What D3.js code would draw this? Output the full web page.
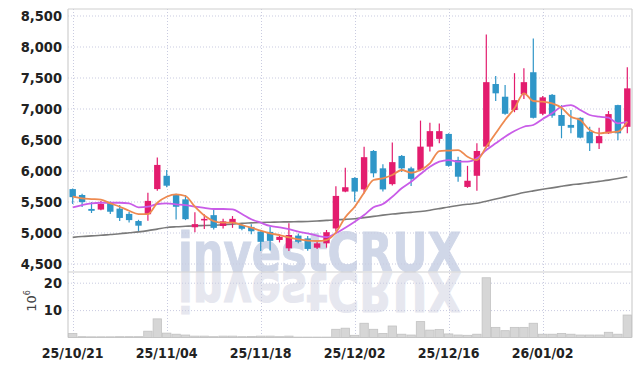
<!DOCTYPE html>
<html>
<head>
<meta charset="utf-8">
<script src="https://cdn.jsdelivr.net/npm/d3@7"></script>
<style>
  body { margin: 0; background: #fff; }
  svg { display: block; }
  .lbl { font-family: "Liberation Sans Narrow", "DejaVu Sans Condensed", "Roboto", sans-serif; font-weight: bold; fill: #222; }
</style>
</head>
<body>
<div id="chart"></div>
<script>
// 取引日
const dates = [
  "25/10/21","25/10/22","25/10/23","25/10/24","25/10/27","25/10/28","25/10/29","25/10/30","25/10/31",
  "25/11/03","25/11/04","25/11/05","25/11/06","25/11/07","25/11/10","25/11/11","25/11/12","25/11/13","25/11/14",
  "25/11/17","25/11/18","25/11/19","25/11/20","25/11/21","25/11/24","25/11/25","25/11/26","25/11/27","25/11/28",
  "25/12/01","25/12/02","25/12/03","25/12/04","25/12/05","25/12/08","25/12/09","25/12/10","25/12/11","25/12/12",
  "25/12/15","25/12/16","25/12/17","25/12/18","25/12/19","25/12/22","25/12/23","25/12/24","25/12/26","25/12/29",
  "25/12/30","26/01/02","26/01/05","26/01/06","26/01/07","26/01/08","26/01/09","26/01/12","26/01/13","26/01/14",
  "26/01/15"
];
const open  = [5700,5605,5380,5370,5480,5385,5300,5185,5295,5700,5915,5620,5535,5085,5195,5280,5105,5165,5120,5090,
               5015,5010,4880,4745,4950,4905,4755,4825,5065,5660,5880,5695,6315,6035,5780,6235,6035,6010,6385,6510,
               6590,6170,5735,5915,6385,7395,7190,6975,7230,7585,6915,7220,6895,6735,6850,6625,6440,6600,7055,6705];
const high  = [5710,5625,5490,5510,5500,5445,5330,5205,5640,6210,6010,5625,5605,5325,5295,5365,5220,5265,5135,5135,
               5020,5095,4970,5150,4985,4945,4870,5040,5745,6045,5890,6385,6330,6100,6450,6250,6060,6805,6770,6760,
               6600,6220,6075,6440,8195,7525,7380,7570,7650,8130,7200,7235,7055,6975,6860,6705,6690,6960,7060,7665];
const low   = [5460,5410,5315,5360,5300,5185,5160,5025,5190,5675,5730,5210,5200,5005,5055,5050,5065,5075,5035,4970,
               4700,4710,4840,4700,4825,4705,4735,4755,5015,5650,5495,5630,5890,5660,5760,5975,5750,5990,6305,6440,
               6060,5820,5720,5675,6360,7120,6900,6940,7155,6840,6890,6850,6520,6600,6520,6315,6345,6590,6490,6600];
const close = [5570,5490,5350,5460,5335,5235,5200,5110,5510,6090,5755,5415,5215,5135,5220,5075,5180,5220,5060,5020,
               4850,4865,4930,4960,4850,4735,4825,5005,5590,5730,5660,6215,5955,5695,6135,6035,5865,6385,6635,6635,
               6075,5900,5835,6315,7425,7245,6915,7135,7425,6850,7180,6885,6720,6690,6530,6440,6555,6910,6600,7325];
// 出来高 (百万株)
const volume = [1.5,0.3,0.25,0.25,0.25,0.3,0.3,0.3,2.3,6.8,1.6,1.2,0.9,0.5,0.5,0.3,0.5,0.5,0.3,0.4,
                0.5,0.5,0.3,0.5,0.15,0.15,0.15,0.15,3.0,3.4,0.8,5.2,3.0,1.5,4.2,1.2,0.9,5.8,2.7,2.9,
                1.3,0.9,0.8,1.2,21.8,3.7,2.5,3.7,3.7,5.2,1.2,1.2,1.5,1.2,0.9,0.9,0.9,1.9,1.2,8.2];
// 移動平均
const ma5   = [5577,5551,5540,5530,5471,5416,5351,5298,5298,5480,5577,5616,5589,5416,5274,5185,5158,5158,5121,5077,
               5029,4987,4959,4922,4890,4868,4863,4879,5000,5245,5416,5642,5847,5874,5927,6008,5964,6008,6116,6314,
               6322,6330,6222,6169,6384,6600,6814,7003,7245,7121,7110,7084,7013,6868,6814,6653,6600,6616,6626,6787];
const ma20  = [5406,5443,5471,5480,5480,5480,5471,5406,5416,5460,5471,5455,5443,5416,5398,5379,5379,5374,5298,5213,
               5158,5105,5084,5056,5013,4987,4948,4925,4987,5077,5174,5282,5406,5460,5577,5713,5819,5943,6061,6142,
               6169,6142,6142,6197,6330,6439,6545,6637,6706,6734,6831,6922,7029,7056,6976,6895,6868,6851,6761,6787];
const ma120 = [4922,4935,4945,4955,4968,4980,4995,5010,5030,5055,5080,5092,5100,5108,5113,5118,5125,5135,5148,5155,
               5162,5166,5170,5172,5175,5178,5185,5195,5205,5212,5222,5240,5260,5280,5298,5312,5325,5340,5360,5385,
               5412,5435,5455,5472,5505,5540,5575,5610,5645,5672,5697,5720,5745,5768,5785,5805,5825,5845,5870,5900];
// 目盛
const priceTicks = [4500,5000,5500,6000,6500,7000,7500,8000,8500];
const volumeTicks = [10,20];
const tickDates = ["25/10/21","25/11/04","25/11/18","25/12/02","25/12/16","26/01/02"];

const W = 642, H = 366;
// 描画領域
const plot_l = 68, plot_r = 632, plot_t = 9, plot_split = 272, plot_b = 337.5;

const up_color = "#e31c6e";
const down_color = "#2f96c8";
const grid_color = "#c9cbe0";
const frame_color = "#cfcfcf";

const svg = d3.select("#chart").append("svg")
    .attr("width", W)
    .attr("height", H);

const x = d3.scaleBand().domain(dates).range([plot_l, plot_r]).padding(0);
const cx = d => x(d) + x.bandwidth() / 2;
const y = d3.scaleLinear().domain([4363, 8605]).range([plot_split, plot_t]);
const yv = d3.scaleLinear().domain([0, 23.9]).range([plot_b, plot_split]);

// ウォーターマーク(下は反転した影)
const wm = svg.append("g")
    .attr("font-family", "DejaVu Sans, sans-serif")
    .attr("font-weight", "bold")
    .attr("font-size", 54);
wm.append("text")
    .text("investCRUX")
    .attr("x", 178).attr("y", 271)
    .attr("textLength", 283).attr("lengthAdjust", "spacingAndGlyphs")
    .attr("fill", "#d0d7e8")
    .attr("stroke", "#d0d7e8").attr("stroke-width", 1);
wm.append("text")
    .text("investCRUX")
    .attr("x", 178).attr("y", -273)
    .attr("transform", "scale(1,-1)")
    .attr("textLength", 283).attr("lengthAdjust", "spacingAndGlyphs")
    .attr("fill", "#e6e7ef")
    .attr("stroke", "#e6e7ef").attr("stroke-width", 1);

// グリッド(横)
svg.append("g").selectAll("line")
    .data(priceTicks).enter().append("line")
    .attr("x1", plot_l).attr("x2", plot_r)
    .attr("y1", d => y(d) + 0.5).attr("y2", d => y(d) + 0.5)
    .attr("stroke", grid_color).attr("stroke-dasharray", "1,2");
svg.append("g").selectAll("line")
    .data(volumeTicks).enter().append("line")
    .attr("x1", plot_l).attr("x2", plot_r)
    .attr("y1", d => yv(d) + 0.5).attr("y2", d => yv(d) + 0.5)
    .attr("stroke", grid_color).attr("stroke-dasharray", "1,2");
// グリッド(縦)
svg.append("g").selectAll("line")
    .data(tickDates).enter().append("line")
    .attr("x1", d => Math.round(cx(d)) + 0.5).attr("x2", d => Math.round(cx(d)) + 0.5)
    .attr("y1", plot_t).attr("y2", plot_b)
    .attr("stroke", grid_color).attr("stroke-dasharray", "1,2");

// 枠
const frame = svg.append("g").attr("stroke", frame_color).attr("stroke-width", 1.2);
frame.append("line").attr("x1", plot_l).attr("x2", plot_r).attr("y1", plot_t).attr("y2", plot_t);
frame.append("line").attr("x1", plot_l).attr("x2", plot_l).attr("y1", plot_t).attr("y2", plot_b);
frame.append("line").attr("x1", plot_r).attr("x2", plot_r).attr("y1", plot_t).attr("y2", plot_b);
frame.append("line").attr("x1", plot_l).attr("x2", plot_r).attr("y1", plot_split).attr("y2", plot_split);
frame.append("line").attr("x1", plot_l).attr("x2", plot_r).attr("y1", plot_b).attr("y2", plot_b);

// 出来高
svg.append("g").selectAll("rect")
    .data(volume).enter().append("rect")
    .attr("x", (d, i) => x(dates[i]) + 0.5)
    .attr("width", x.bandwidth() - 1)
    .attr("y", d => yv(d))
    .attr("height", d => plot_b - yv(d))
    .attr("fill", "#d6d6d6")
    .attr("stroke", "#c2c2c2")
    .attr("stroke-width", 0.8);

// 移動平均
const line = d3.line()
    .x((d, i) => cx(dates[i]))
    .y(d => y(d))
    .curve(d3.curveMonotoneX);
svg.append("path").datum(ma120).attr("d", line)
    .attr("fill", "none").attr("stroke", "#7a7a7a").attr("stroke-width", 1.6);

// ローソク足
const candles = svg.append("g");
const bw = 6.4;
dates.forEach((d, i) => {
    const c = close[i] >= open[i] ? up_color : down_color;
    const xc = cx(d);
    candles.append("line")
        .attr("x1", xc).attr("x2", xc)
        .attr("y1", y(high[i])).attr("y2", y(low[i]))
        .attr("stroke", c).attr("stroke-width", 1.2);
    const yt = y(Math.max(open[i], close[i]));
    const yb = y(Math.min(open[i], close[i]));
    candles.append("rect")
        .attr("x", xc - bw / 2).attr("width", bw)
        .attr("y", yt).attr("height", Math.max(1.5, yb - yt))
        .attr("fill", c);
});

svg.append("path").datum(ma20).attr("d", line)
    .attr("fill", "none").attr("stroke", "#c95ce8").attr("stroke-width", 1.8);
svg.append("path").datum(ma5).attr("d", line)
    .attr("fill", "none").attr("stroke", "#ee8a50").attr("stroke-width", 1.8);

// 軸
const ay = svg.append("g")
    .attr("transform", "translate(" + plot_l + ",0)")
    .call(d3.axisLeft(y).tickValues(priceTicks).tickFormat(d3.format(",")).tickSize(0).tickPadding(6));
const av = svg.append("g")
    .attr("transform", "translate(" + plot_l + ",0)")
    .call(d3.axisLeft(yv).tickValues(volumeTicks).tickSize(0).tickPadding(6));
const ax = svg.append("g")
    .attr("transform", "translate(0," + plot_b + ")")
    .call(d3.axisBottom(x).tickValues(tickDates).tickSize(0).tickPadding(11));
[ay, av, ax].forEach(g => {
    g.select(".domain").remove();
    g.selectAll("text").attr("class", "lbl").attr("font-size", 14.5).attr("fill", "#222");
});
ax.selectAll("text").attr("font-size", 14);

// 単位
const unit = svg.append("text")
    .attr("transform", "translate(36,301) rotate(-90)")
    .attr("text-anchor", "middle")
    .attr("font-family", "DejaVu Sans, sans-serif")
    .attr("font-size", 13)
    .attr("fill", "#444");
unit.append("tspan").text("10");
unit.append("tspan").text("6").attr("font-size", 8).attr("dy", -6);
</script>
</body>
</html>
